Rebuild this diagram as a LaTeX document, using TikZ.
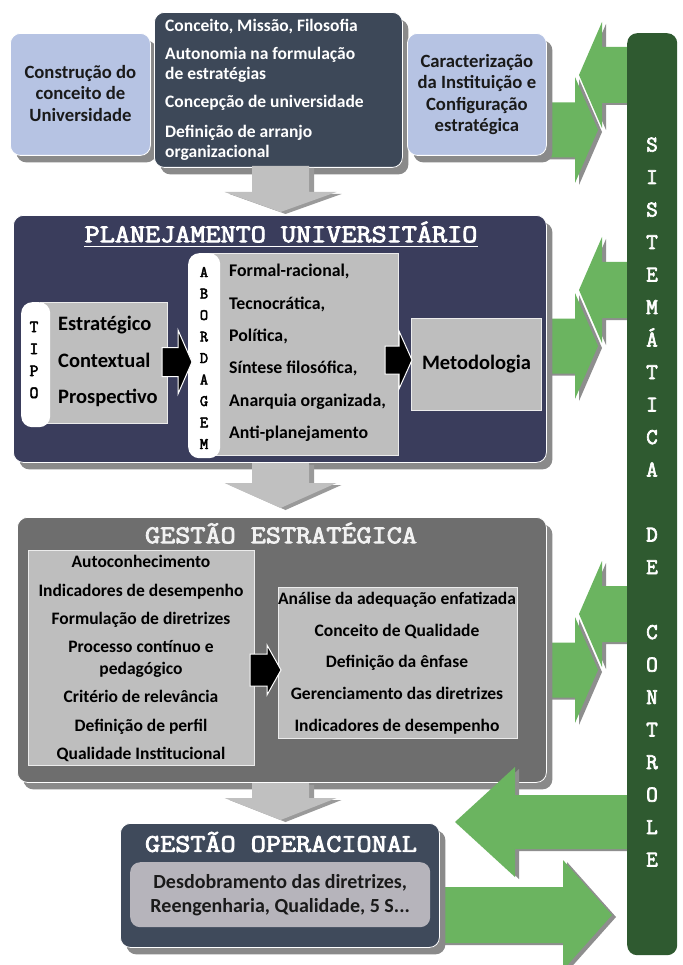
\documentclass[tikz,border=0pt]{standalone}
\usepackage{fontspec}
\setmainfont{Carlito}
\newfontfamily\courb[FakeBold=3]{Latin Modern Mono}
\usetikzlibrary{shadows}

\definecolor{lblue}{HTML}{B6C3E3}
\definecolor{slate}{HTML}{3D4858}
\definecolor{navy}{HTML}{3A3D5C}
\definecolor{gmid}{HTML}{6E6E6E}
\definecolor{ginner}{HTML}{BEBEBE}
\definecolor{opbox}{HTML}{3F4A5B}
\definecolor{opinner}{HTML}{B6B4BB}
\definecolor{garrow}{HTML}{6BB460}
\definecolor{garrowsh}{HTML}{8E8E8E}
\definecolor{gbar}{HTML}{2F5A30}
\definecolor{shadowc}{HTML}{8A8A8A}
\definecolor{darrow}{HTML}{C0C0C0}
\definecolor{darrowsh}{HTML}{9A9A9A}
\definecolor{txtdark}{HTML}{1A1A1A}

\newcommand\GArrShape[7]{\fill[#7] (#1,{#4-#5}) -- (#2,{#4-#5}) -- (#2,{#4-#6}) -- (#3,#4) -- (#2,{#4+#6}) -- (#2,{#4+#5}) -- (#1,{#4+#5}) -- cycle;}
\newcommand\GArr[6]{\GArrShape{#1}{#2}{#3}{#4}{#5}{#6}{garrowsh,shift={(4,2)}}\GArrShape{#1}{#2}{#3}{#4}{#5}{#6}{garrow}}
\newcommand\BArr[6]{\filldraw[fill=black,draw=white,line width=1pt] (#1,{#4-#5}) -- (#2,{#4-#5}) -- (#2,{#4-#6}) -- (#3,#4) -- (#2,{#4+#6}) -- (#2,{#4+#5}) -- (#1,{#4+#5}) -- cycle;}
\newcommand\DArrShape[5]{\fill[#5] ({#1-28.5},#2) -- ({#1+28.5},#2) -- ({#1+28.5},#3) -- ({#1+56},#3) -- (#1,#4) -- ({#1-56},#3) -- ({#1-28.5},#3) -- cycle;}
\newcommand\DArr[4]{\DArrShape{#1}{#2}{#3}{#4}{darrowsh,shift={(5,2)}}\DArrShape{#1}{#2}{#3}{#4}{darrow}}
\newcommand\Head[1]{\scalebox{1.15}[1]{#1}}

\begin{document}
\begin{tikzpicture}[x=1pt,y=-1pt,
  bigbox/.style={rounded corners=10pt, inner sep=0pt, anchor=north west, draw=white, line width=0.8pt,
    drop shadow={shadow xshift=6pt, shadow yshift=-7pt, fill=shadowc, opacity=1}},
  sqbox/.style={inner sep=0pt, anchor=north west, fill=ginner, draw=white!85!gray, line width=1pt},
  stripbox/.style={rounded corners=11pt, inner sep=0pt, anchor=north west, fill=white},
  body/.style={font=\bfseries\fontsize{17.5}{21}\selectfont, inner sep=0pt, text height=12pt, text depth=3.5pt},
  bodyml/.style={font=\bfseries\fontsize{18.7}{21.5}\selectfont, inner sep=0pt, align=center},
  big/.style={font=\bfseries\fontsize{20.5}{24}\selectfont, inner sep=0pt, text height=14pt, text depth=4pt},
  mid/.style={font=\bfseries\fontsize{17.8}{20}\selectfont, inner sep=0pt, text height=12pt, text depth=3.5pt},
  mono/.style={font=\courb\fontsize{25.5}{26}\selectfont, inner sep=0pt},
  vlet/.style={font=\courb\fontsize{17}{18}\selectfont, inner sep=0pt, text height=10pt, text depth=0pt, text=black},
  barlet/.style={font=\courb\fontsize{22.5}{24}\selectfont, inner sep=0pt, text height=13pt, text depth=0pt, text=white}
]
\useasboundingbox[fill=white] (0,0) rectangle (682,965);

% green arrows under the boxes
\GArr{630}{602}{579}{75}{28}{53}
\GArr{535}{575}{598}{130}{27.5}{53}
\GArr{630}{602}{579}{290}{28}{53}
\GArr{535}{575}{598}{346}{27.5}{53}
\GArr{630}{602}{579}{614}{28}{53}
\GArr{535}{575}{598}{670}{27.5}{53}
\GArr{425}{563}{612}{915}{28}{55}

% top row
\node[bigbox, fill=lblue, minimum width=140pt, minimum height=122pt] (constr) at (10,33) {};
\node[bodyml, text=txtdark] (constrtxt) at ([yshift=1pt]constr.center) {Construção do\\conceito de\\Universidade};
\node[bigbox, fill=slate, minimum width=248pt, minimum height=155pt] (topdark) at (154,12) {};
\node[body, text=white, anchor=west] (t1) at (165,27) {Conceito, Missão, Filosofia};
\node[body, text=white, anchor=west] (t2) at (165,55) {Autonomia na formulação};
\node[body, text=white, anchor=west] (t3) at (165,75) {de estratégias};
\node[body, text=white, anchor=west] (t4) at (165,103) {Concepção de universidade};
\node[body, text=white, anchor=west] (t5) at (165,133) {Definição de arranjo};
\node[body, text=white, anchor=west] (t6) at (165,153) {organizacional};
\node[bigbox, fill=lblue, minimum width=139pt, minimum height=122pt] (carac) at (407,33) {};
\node[bodyml, text=txtdark] (caractxt) at (carac.center) {Caracterização\\da Instituição e\\Configuração\\estratégica};

% planejamento
\node[bigbox, fill=navy, minimum width=533pt, minimum height=247pt] (plan) at (13,215) {};
\node[mono, text=white] (ptitle) at (281,232) {\Head{PLANEJAMENTO UNIVERSITÁRIO}};
\draw[white, line width=1.3pt] ([yshift=-4pt]ptitle.base west) -- ([yshift=-4pt]ptitle.base east);

\node[sqbox, minimum width=127pt, minimum height=121pt] (tipobox) at (40,302) {};
\node[stripbox, minimum width=29pt, minimum height=125pt] (tipostrip) at (21,302) {};
\foreach \ch [count=\i from 0] in {T,I,P,O}
  \node[vlet] (tp\i) at (34,{327+22*\i}) {\ch};
\node[big, anchor=west] (e1) at (58,325) {Estratégico};
\node[big, anchor=west] (e2) at (58,362) {Contextual};
\node[big, anchor=west] (e3) at (58,398) {Prospectivo};

\node[sqbox, minimum width=193pt, minimum height=202pt] (abbox) at (205,253) {};
\node[stripbox, minimum width=32pt, minimum height=205pt] (abstrip) at (188,253) {};
\foreach \ch [count=\i from 0] in {A,B,O,R,D,A,G,E,M}
  \node[vlet, font=\courb\fontsize{16}{17}\selectfont] (ab\i) at (204,{272+21.5*\i}) {\ch};
\node[mid, anchor=west] (a1) at (229,272) {Formal-racional,};
\node[mid, anchor=west] (a2) at (229,305) {Tecnocrática,};
\node[mid, anchor=west] (a3) at (229,337) {Política,};
\node[mid, anchor=west] (a4) at (229,369) {Síntese filosófica,};
\node[mid, anchor=west] (a5) at (229,402) {Anarquia organizada,};
\node[mid, anchor=west] (a6) at (229,434) {Anti-planejamento};

\node[sqbox, minimum width=130pt, minimum height=92pt] (metod) at (411,318) {};
\node[big] (metodtxt) at (metod.center) {Metodologia};

\BArr{162}{178}{192}{362}{14.5}{32}
\BArr{385}{399}{412}{360}{14}{29}

% gestao estrategica
\node[bigbox, fill=gmid, minimum width=529pt, minimum height=265pt] (gest) at (17,517) {};
\node[mono, text=white!90!gray] (gtitle) at (281,533) {\Head{GESTÃO ESTRATÉGICA}};
\node[sqbox, minimum width=226pt, minimum height=215pt] (gleft) at (28,550) {};
\node[body] (g1) at (141,563) {Autoconhecimento};
\node[body] (g2) at (141,592) {Indicadores de desempenho};
\node[body] (g3) at (141,620) {Formulação de diretrizes};
\node[body] (g4) at (141,648) {Processo contínuo e};
\node[body] (g5) at (141,670) {pedagógico};
\node[body] (g6) at (141,698) {Critério de relevância};
\node[body] (g7) at (141,727) {Definição de perfil};
\node[body] (g8) at (141,755) {Qualidade Institucional};
\node[sqbox, minimum width=239pt, minimum height=151pt] (gright) at (278,587) {};
\node[body] (r1) at (397,600) {Análise da adequação enfatizada};
\node[body] (r2) at (397,632) {Conceito de Qualidade};
\node[body] (r3) at (397,663) {Definição da ênfase};
\node[body] (r4) at (397,695) {Gerenciamento das diretrizes};
\node[body] (r5) at (397,727) {Indicadores de desempenho};
\BArr{250}{267}{281}{670}{16}{25}

% gestao operacional
\node[bigbox, fill=opbox, minimum width=319pt, minimum height=124pt] (oper) at (120,823) {};
\node[mono, text=white] (otitle) at (281,842) {\Head{GESTÃO OPERACIONAL}};
\node[inner sep=0pt, anchor=north west, rounded corners=10pt, fill=opinner, minimum width=300pt, minimum height=65pt] (opin) at (130,862) {};
\node[bodyml, font=\bfseries\fontsize{20}{24}\selectfont, text=txtdark] (optxt) at (opin.center) {Desdobramento das diretrizes,\\Reengenharia, Qualidade, 5 S...};

% gray down arrows
\DArr{280.5}{166}{192}{212}
\DArr{280.5}{463}{483}{508}
\DArr{280.5}{783}{798}{820}

% big left arrow over gestao box
\GArr{630}{515}{455}{822}{27}{55}

% control bar
\node[rounded corners=10pt, fill=gbar, inner sep=0pt, anchor=north west, minimum width=50pt, minimum height=922pt] (bar) at (627,33) {};
\foreach \ch [count=\i from 0] in {S,I,S,T,E,M,Á,T,I,C,A,{},D,E,{},C,O,N,T,R,O,L,E}
  \node[barlet] (bl\i) at (652,{145+32.5*\i}) {\ch};
\end{tikzpicture}
\end{document}
